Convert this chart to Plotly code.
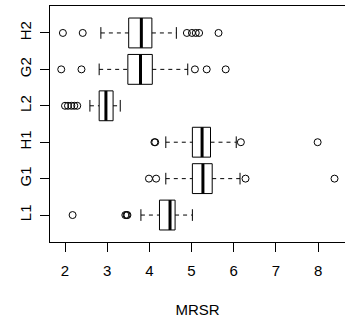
import plotly.graph_objects as go

categories = ["L1", "G1", "H1", "L2", "G2", "H2"]
lower_whisker = [3.80, 4.39, 4.39, 2.59, 2.81, 2.85]
q1 = [4.24, 5.02, 5.02, 2.81, 3.49, 3.51]
median = [4.49, 5.27, 5.25, 2.97, 3.79, 3.81]
q3 = [4.61, 5.49, 5.45, 3.14, 4.07, 4.06]
upper_whisker = [5.02, 6.15, 6.06, 3.31, 4.91, 4.64]
outliers = [
    [2.18, 3.43, 3.46, 3.48],
    [3.99, 4.16, 6.28, 8.39],
    [4.12, 4.14, 6.17, 7.99],
    [2.00, 2.07, 2.15, 2.22, 2.29],
    [1.91, 2.39, 5.08, 5.36, 5.81],
    [1.95, 2.42, 4.89, 5.01, 5.10, 5.18, 5.64],
]
x_ticks = [2, 3, 4, 5, 6, 7, 8]

BOX_HALF = 0.41
STAPLE_HALF = 0.16
FONT = "Liberation Sans, Arial, sans-serif"

box_x, box_y = [], []
med_x, med_y = [], []
wh_x, wh_y = [], []
st_x, st_y = [], []
out_x, out_y = [], []
for i, cat in enumerate(categories):
    y = i + 1
    box_x += [q1[i], q3[i], q3[i], q1[i], q1[i], None]
    box_y += [y - BOX_HALF, y - BOX_HALF, y + BOX_HALF, y + BOX_HALF, y - BOX_HALF, None]
    med_x += [median[i], median[i], None]
    med_y += [y - BOX_HALF, y + BOX_HALF, None]
    wh_x += [lower_whisker[i], q1[i], None, q3[i], upper_whisker[i], None]
    wh_y += [y, y, None, y, y, None]
    st_x += [lower_whisker[i], lower_whisker[i], None, upper_whisker[i], upper_whisker[i], None]
    st_y += [y - STAPLE_HALF, y + STAPLE_HALF, None, y - STAPLE_HALF, y + STAPLE_HALF, None]
    out_x += outliers[i]
    out_y += [y] * len(outliers[i])

fig = go.Figure()
fig.add_trace(go.Scatter(x=wh_x, y=wh_y, mode="lines",
                         line=dict(color="black", width=1, dash="4px,4px"), hoverinfo="skip"))
fig.add_trace(go.Scatter(x=st_x, y=st_y, mode="lines",
                         line=dict(color="black", width=1), hoverinfo="skip"))
fig.add_trace(go.Scatter(x=box_x, y=box_y, mode="lines",
                         line=dict(color="black", width=1), hoverinfo="skip"))
fig.add_trace(go.Scatter(x=med_x, y=med_y, mode="lines",
                         line=dict(color="black", width=3), hoverinfo="skip"))
fig.add_trace(go.Scatter(x=out_x, y=out_y, mode="markers",
                         marker=dict(symbol="circle-open", size=7, color="black",
                                     line=dict(width=1, color="black"))))

fig.update_layout(
    width=345, height=325,
    margin=dict(l=50, r=0, t=6, b=83),
    paper_bgcolor="white", plot_bgcolor="white",
    showlegend=False,
    font=dict(family=FONT, size=15, color="black"),
    xaxis=dict(
        range=[1.644, 8.639], tickvals=x_ticks, ticktext=[str(v) for v in x_ticks],
        ticks="outside", ticklen=9, tickwidth=1, tickcolor="black",
        ticklabelstandoff=6,
        showline=True, linecolor="black", linewidth=1, mirror=True,
        showgrid=False, zeroline=False,
        title=dict(text="MRSR", standoff=26, font=dict(size=15)),
    ),
    yaxis=dict(
        range=[0.26, 6.74], tickvals=list(range(1, len(categories) + 1)), ticktext=categories,
        tickangle=-90,
        ticks="outside", ticklen=9, tickwidth=1, tickcolor="black",
        ticklabelstandoff=3,
        showline=True, linecolor="black", linewidth=1, mirror=False,
        showgrid=False, zeroline=False,
    ),
)

fig.write_html("out.html")
